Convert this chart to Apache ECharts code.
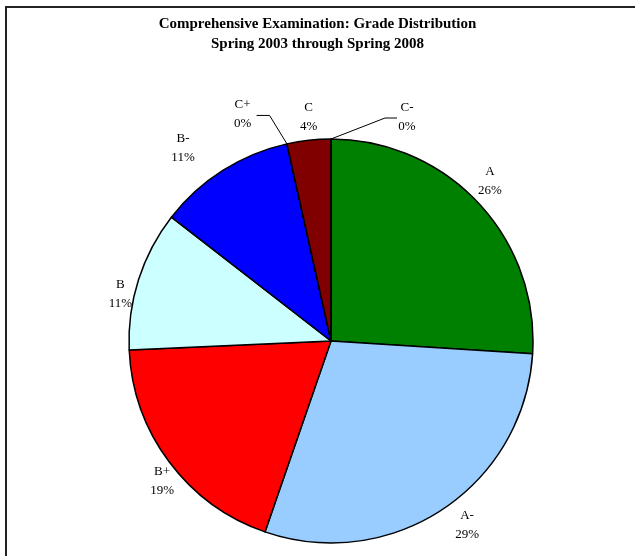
<!DOCTYPE html>
<html>
<head>
<meta charset="utf-8">
<script src="https://cdn.jsdelivr.net/npm/echarts@6/dist/echarts.min.js"></script>
<style>
  html, body { margin: 0; padding: 0; background: #fff; }
  #chart { width: 635px; height: 556px; }
</style>
</head>
<body>
<div id="chart"></div>
<script>
// grade shares, percent
const grades = ['A', 'A-', 'B+', 'B', 'B-', 'C+', 'C', 'C-'];
const shares = [26.0, 29.3, 19.0, 11.2, 11.0, 0, 3.5, 0];
const sliceColors = ['#008000', '#99CCFF', '#FF0000', '#CCFFFF', '#0000FF', '#FFFF99', '#800000', '#FF99CC'];

// pie geometry
const cx = 331, cy = 341, radius = 202;
// small hand nudges so labels sit where Excel put them
const labelShift = [[-3, -5], [13, -4], [9, 5], [1, 22], [-29, -2], [-40, -6], [2, 1], [76, 2]];

const total = shares.reduce((a, b) => a + b, 0);
const midAngles = [];
let acc = 0;
shares.forEach(v => {
  midAngles.push((acc + v / 2) / total * 2 * Math.PI);
  acc += v;
});

const chart = echarts.init(document.getElementById('chart'));

chart.setOption({
  animation: false,
  title: {
    text: 'Comprehensive Examination: Grade Distribution\nSpring 2003 through Spring 2008',
    left: 'center',
    top: 9,
    textStyle: {
      fontFamily: 'Liberation Serif',
      fontWeight: 'bold',
      fontSize: 15,
      lineHeight: 20,
      color: '#000'
    }
  },
  graphic: [{
    type: 'rect',
    shape: { x: 6, y: 7, width: 700, height: 700 },
    style: { fill: 'none', stroke: '#222', lineWidth: 2 },
    silent: true
  }],
  series: [{
    type: 'pie',
    center: [cx, cy],
    radius: radius,
    startAngle: 90,
    clockwise: true,
    avoidLabelOverlap: false,
    minShowLabelAngle: -1,
    data: grades.map((g, i) => ({
      name: g,
      value: shares[i],
      itemStyle: { color: sliceColors[i] },
      labelLine: { show: shares[i] === 0 }
    })),
    itemStyle: { borderColor: '#000', borderWidth: 1.5 },
    label: {
      show: true,
      position: 'outside',
      formatter: p => p.name + '\n' + Math.round(p.value / total * 100) + '%',
      fontFamily: 'Liberation Serif',
      fontSize: 13,
      lineHeight: 19,
      color: '#000'
    },
    labelLine: { show: false, lineStyle: { color: '#000', width: 1 } },
    labelLayout: params => {
      const i = params.dataIndex;
      const s = Math.sin(midAngles[i]), c = Math.cos(midAngles[i]);
      const x = cx + (radius + 5) * s + s * 15 + labelShift[i][0];
      const y = cy - (radius + 5) * c - c * 19 + labelShift[i][1];
      const out = { x: x, y: y, align: 'center', verticalAlign: 'middle' };
      if (shares[i] === 0) {
        // leader line: slice edge -> knee -> short flat run toward the label
        const edge = [cx + radius * s, cy - radius * c];
        const right = x > cx;
        const knee = [right ? x - 22 : x + 27, y + 1];
        const end = [right ? x - 10 : x + 14, y + 1];
        out.labelLinePoints = [edge, knee, end];
      }
      return out;
    }
  }]
});
</script>
</body>
</html>
